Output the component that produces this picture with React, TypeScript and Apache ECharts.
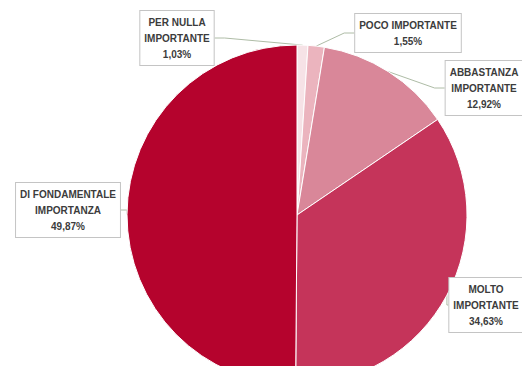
import React, { useEffect, useRef } from "react";
import * as echarts from "echarts";

const categories = [
  "PER NULLA\nIMPORTANTE",
  "POCO IMPORTANTE",
  "ABBASTANZA\nIMPORTANTE",
  "MOLTO\nIMPORTANTE",
  "DI FONDAMENTALE\nIMPORTANZA",
];
const values = [1.03, 1.55, 12.92, 34.63, 49.87];
const valueLabels = ["1,03%", "1,55%", "12,92%", "34,63%", "49,87%"];
const colors = ["#f6e2e6", "#ebb4be", "#d98799", "#c5345a", "#b5032d"];
const labelCenters = [
  [177, 38],
  [408, 33],
  [484, 88],
  [486, 305],
  [68, 210],
];

export default function App() {
  const ref = useRef<HTMLDivElement>(null);
  useEffect(() => {
    if (!ref.current) return;
    const chart = echarts.init(ref.current, null, { renderer: "svg" });
    chart.setOption({
      animation: false,
      backgroundColor: "#ffffff",
      series: [
        {
          type: "pie",
          center: [289, 207],
          radius: 170,
          startAngle: 90,
          clockwise: true,
          avoidLabelOverlap: false,
          data: categories.map((c, i) => ({
            name: c,
            value: values[i],
            itemStyle: { color: colors[i] },
          })),
          itemStyle: { borderColor: "#ffffff", borderWidth: 1 },
          label: {
            show: true,
            position: "outside",
            formatter: (p: any) => p.name + "\n" + valueLabels[p.dataIndex],
            fontFamily: "Liberation Sans",
            fontWeight: "bold",
            fontSize: 10,
            lineHeight: 16,
            color: "#3c3c3c",
            backgroundColor: "#ffffff",
            borderColor: "#c4c4c4",
            borderWidth: 1,
            padding: [3, 4],
            align: "center",
          },
          labelLine: {
            show: true,
            length: 10,
            length2: 10,
            lineStyle: { color: "#aebca6", width: 1 },
          },
          labelLayout: (params: any) => {
            const c = labelCenters[params.dataIndex];
            return {
              x: c[0] - 8,
              y: c[1] - 8,
              align: "center",
              verticalAlign: "middle",
            };
          },
        },
      ],
    });
    return () => chart.dispose();
  }, []);
  return <div ref={ref} style={{ width: 514, height: 358 }} />;
}
